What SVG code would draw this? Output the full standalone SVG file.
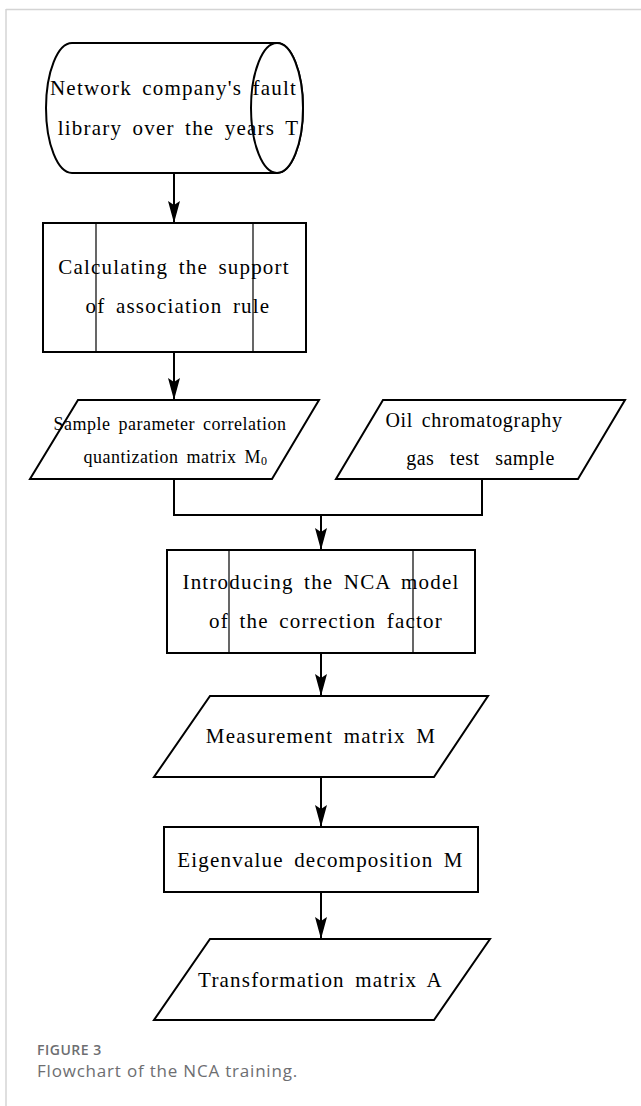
<svg xmlns="http://www.w3.org/2000/svg" width="641" height="1106" viewBox="0 0 641 1106">
<style>
.shape{fill:#fff;stroke:#000;stroke-width:2}
.inner{stroke:#000;stroke-width:1.2;fill:none}
.conn{stroke:#000;stroke-width:2;fill:none}
.t{font-family:"Liberation Serif","Times New Roman",serif;font-size:21px;letter-spacing:1.2px;word-spacing:4px;fill:#000;text-anchor:middle}
.t18{font-size:18px;letter-spacing:0.5px;word-spacing:3px}
.t20{font-size:20px;letter-spacing:0.7px;word-spacing:3px}
.cap1{font-family:"Open Sans","Liberation Sans",sans-serif;font-size:14px;font-weight:600;letter-spacing:0.5px;fill:#6d6e71}
.cap2{font-family:"Open Sans","Liberation Sans",sans-serif;font-size:17px;letter-spacing:0.8px;fill:#6d6e71}
</style>
<defs>
<marker id="arr" viewBox="0 -7 24 14" refX="22" refY="0" markerWidth="24" markerHeight="14" markerUnits="userSpaceOnUse" orient="auto" overflow="visible">
<path d="M22,0 L0,-6 L4,0 L0,6 Z" fill="#000"/>
</marker>
</defs>
<rect width="641" height="1106" fill="#fff"/>
<g id="frame">
<line x1="6" y1="9.5" x2="641" y2="9.5" stroke="#d4d4d4" stroke-width="1.5"/>
<line x1="6" y1="9" x2="6" y2="1106" stroke="#d4d4d4" stroke-width="1.5"/>
</g>
<g id="connectors">
<line class="conn" x1="174" y1="173" x2="174" y2="223" marker-end="url(#arr)"/>
<line class="conn" x1="174" y1="352" x2="174" y2="400" marker-end="url(#arr)"/>
<polyline class="conn" points="174,479 174,515 482,515 482,479"/>
<line class="conn" x1="321" y1="515" x2="321" y2="550" marker-end="url(#arr)"/>
<line class="conn" x1="321" y1="653" x2="321" y2="696" marker-end="url(#arr)"/>
<line class="conn" x1="321" y1="777" x2="321" y2="827" marker-end="url(#arr)"/>
<line class="conn" x1="321" y1="892" x2="321" y2="939" marker-end="url(#arr)"/>
</g>
<g id="fault-library">
<path class="shape" d="M72,43 L277,43 A26,65 0 0 1 277,173 L72,173 A26,65 0 0 1 72,43 Z"/>
<ellipse class="shape" cx="277" cy="108" rx="26" ry="65" fill="none"/>
<text class="t" x="173.5" y="95">Network company's fault</text>
<text class="t" x="178.5" y="135">library over the years T</text>
</g>
<g id="support">
<rect class="shape" x="43" y="223" width="263" height="129"/>
<line class="inner" x1="96" y1="223" x2="96" y2="352"/>
<line class="inner" x1="253" y1="223" x2="253" y2="352"/>
<text class="t" x="174" y="274">Calculating the support</text>
<text class="t" x="178" y="313">of association rule</text>
</g>
<g id="matrix-m0">
<polygon class="shape" points="78,400 319,400 272,479 30,479"/>
<text class="t t18" x="170" y="430">Sample parameter correlation</text>
<text class="t t18" x="175.5" y="463">quantization matrix M<tspan font-size="12" dy="2">0</tspan></text>
</g>
<g id="oil-sample">
<polygon class="shape" points="383,400 625,400 578,479 336,479"/>
<text class="t t20" x="474" y="427">Oil chromatography</text>
<text class="t t20" x="480.5" y="465" style="letter-spacing:0.5px;word-spacing:10px">gas test sample</text>
</g>
<g id="nca-model">
<rect class="shape" x="167" y="550" width="308" height="103"/>
<line class="inner" x1="229" y1="550" x2="229" y2="653"/>
<line class="inner" x1="413" y1="550" x2="413" y2="653"/>
<text class="t" x="321" y="589">Introducing the NCA model</text>
<text class="t" x="326" y="628">of the correction factor</text>
</g>
<g id="matrix-m">
<polygon class="shape" points="210,696 488,696 434,777 154,777"/>
<text class="t" x="321" y="743">Measurement matrix M</text>
</g>
<g id="eigen">
<rect class="shape" x="164" y="827" width="314" height="65"/>
<text class="t" x="320.5" y="867">Eigenvalue decomposition M</text>
</g>
<g id="matrix-a">
<polygon class="shape" points="210,939 490,939 434,1020 154,1020"/>
<text class="t" x="320.5" y="987">Transformation matrix A</text>
</g>
<g id="caption">
<text class="cap1" x="37" y="1055">FIGURE 3</text>
<text class="cap2" x="37" y="1077">Flowchart of the NCA training.</text>
</g>
</svg>
